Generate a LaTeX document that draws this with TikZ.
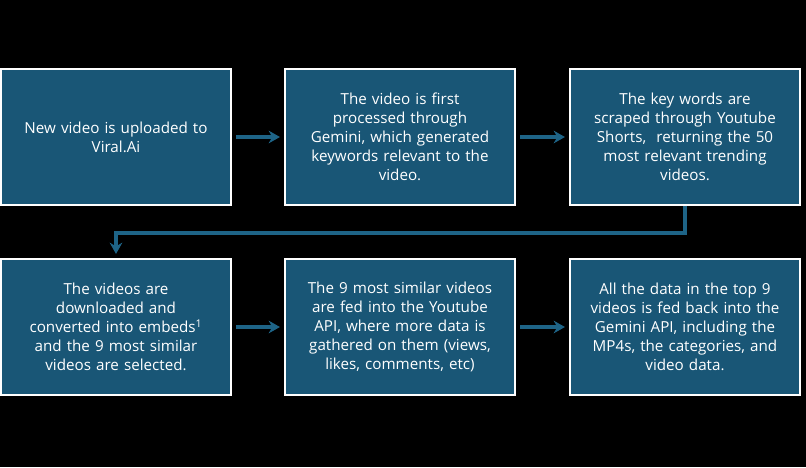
\documentclass[tikz,border=0pt]{standalone}
\usepackage{fontspec}
\setmainfont{Open Sans}
\usetikzlibrary{arrows.meta, positioning}
\definecolor{stepfill}{RGB}{25, 86, 118}
\definecolor{flowline}{RGB}{30, 100, 135}

\begin{document}
\begin{tikzpicture}[x=0.025cm, y=-0.025cm,
    stage/.style={rectangle, draw=white, line width=1.2pt, fill=stepfill,
                 minimum width=5.75cm, minimum height=3.4cm, text width=5.5cm,
                 align=center, text=white, font=\fontsize{10.8}{13.6}\selectfont},
    flow/.style={-{Stealth[length=8pt, width=9pt]}, line width=2.2pt, draw=flowline}]

    % Background
    \fill[black] (0,0) rectangle (806,467);

    % Top row
    \node[stage] (upload) at (116,137) {New video is uploaded to\\Viral.Ai};
    \node[stage] (gemini) at (400,137) {The video is first\\processed through\\Gemini, which generated\\keywords relevant to the\\video.};
    \node[stage] (scrape) at (685,137) {The key words are\\scraped through Youtube\\Shorts,~ returning the 50\\most relevant trending\\videos.};

    % Bottom row
    \node[stage] (embed) at (116,327) {The videos are\\downloaded and\\converted into embeds\textsuperscript{1}\\and the 9 most similar\\videos are selected.};
    \node[stage] (ytapi) at (400,327) {The 9 most similar videos\\are fed into the Youtube\\API, where more data is\\gathered on them (views,\\likes, comments, etc)};
    \node[stage] (final) at (685,327) {All the data in the top 9\\videos is fed back into the\\Gemini API, including the\\MP4s, the categories, and\\video data.};

    % Arrows
    \coordinate (turn) at (685,233);
    \draw[flow] ([xshift=3]upload.east) -- ([xshift=-3]gemini.west);
    \draw[flow] ([xshift=3]gemini.east) -- ([xshift=-3]scrape.west);
    \draw[flow] (scrape.south) -- (turn) -| ([yshift=3]embed.north);
    \draw[flow] ([xshift=3]embed.east) -- ([xshift=-3]ytapi.west);
    \draw[flow] ([xshift=3]ytapi.east) -- ([xshift=-3]final.west);
\end{tikzpicture}
\end{document}
